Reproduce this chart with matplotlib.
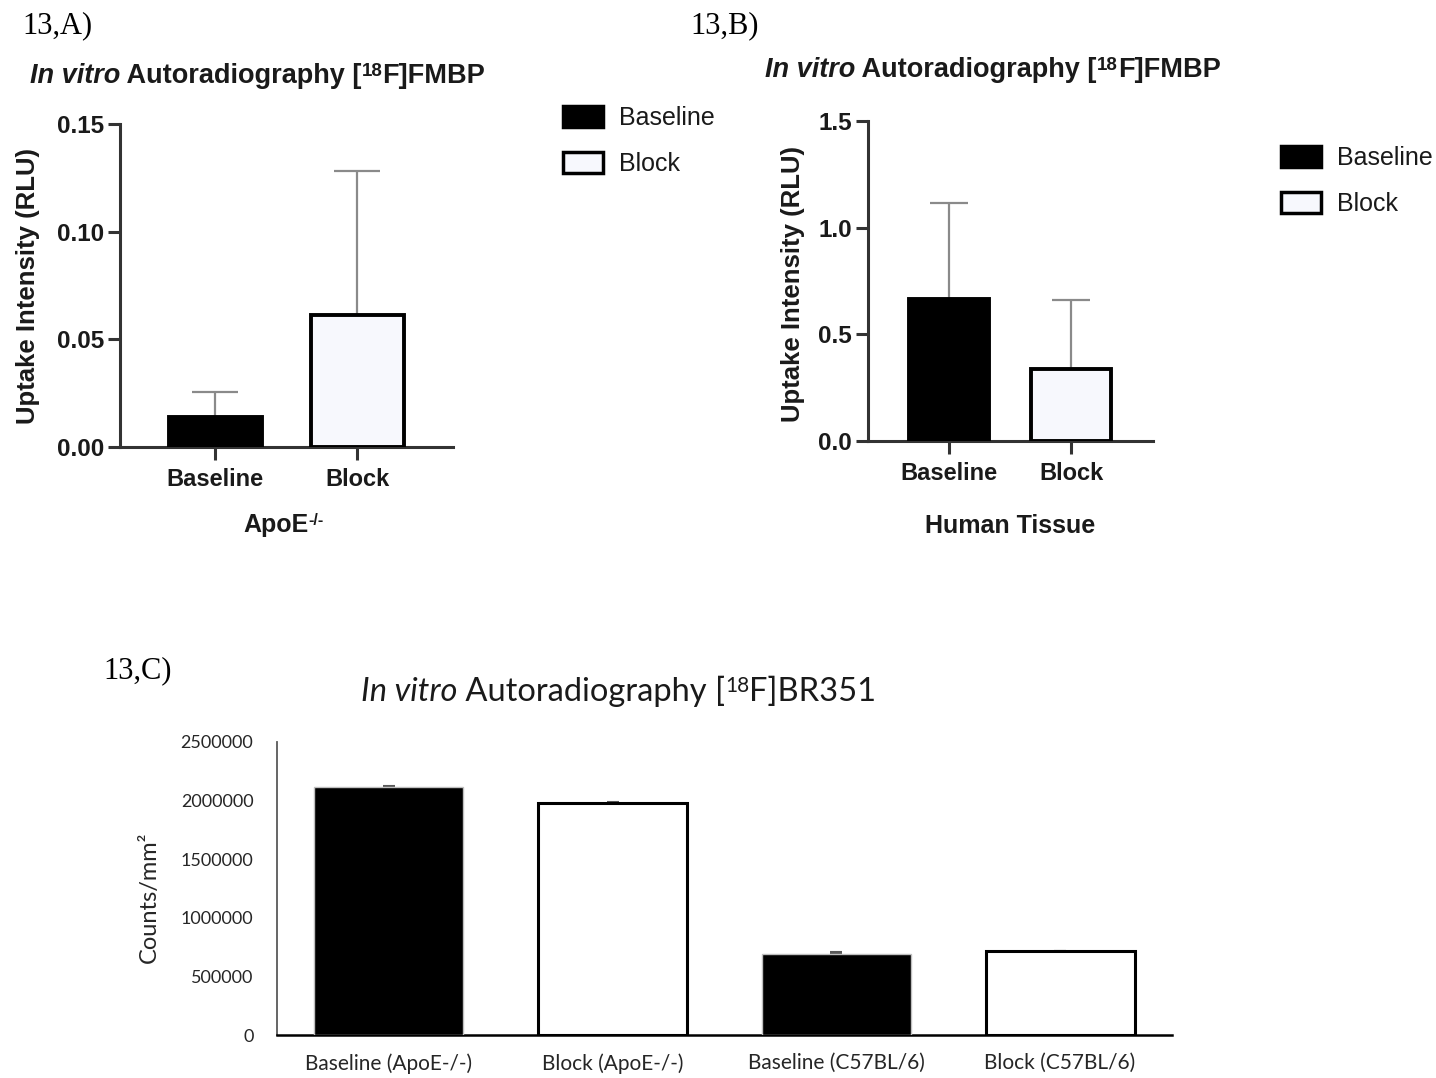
import numpy as np
import matplotlib
matplotlib.use("Agg")
import matplotlib.pyplot as plt
from matplotlib.patches import Patch
from matplotlib.font_manager import FontProperties

# ---- data ----
groups_ab = ["Baseline", "Block"]
apoe_mean = [0.0138, 0.0612]
apoe_sd = [0.0116, 0.0668]
human_mean = [0.666, 0.338]
human_sd = [0.450, 0.323]
apoe_yticks = [0.00, 0.05, 0.10, 0.15]
apoe_yticklabels = ["0.00", "0.05", "0.10", "0.15"]
human_yticks = [0.0, 0.5, 1.0, 1.5]
human_yticklabels = ["0.0", "0.5", "1.0", "1.5"]

c_labels = ["Baseline (ApoE-/-)", "Block (ApoE-/-)", "Baseline (C57BL/6)", "Block (C57BL/6)"]
c_mean = [2115000, 1980000, 695000, 715000]
c_err = [12000, 4000, 12000, 4000]
c_yticks = [0, 500000, 1000000, 1500000, 2000000, 2500000]

W, H = 1436, 1078
PRISM = "Liberation Sans"
XL = "Lato"
TXT = "#1a1a1a"
AX = "#333333"
BLOCK_FILL = "#f7f8fd"

fig = plt.figure(figsize=(W / 100, H / 100), dpi=100)


def box(left, top, right, bottom):
    # pixel box -> figure fraction
    return [left / W, (H - bottom) / H, (right - left) / W, (bottom - top) / H]


def rich(ax, x, y, parts, family, color):
    # chain text pieces one after the other, superscripts hang on the previous piece
    prev = None
    main = None
    for s, size, weight, style, sup in parts:
        kw = dict(fontsize=size, fontweight=weight, fontstyle=style, family=family,
                  color=color, annotation_clip=False, ha="left")
        if prev is None:
            t = ax.annotate(s, xy=(x, H - y), xycoords="figure pixels", va="baseline", **kw)
            main = t
        elif sup:
            t = ax.annotate(s, xy=(1, 1), xycoords=prev, va="top", **kw)
        else:
            t = ax.annotate(s, xy=(1, 0), xycoords=(prev, main), va="bottom", **kw)
            main = t
        prev = t


def prism_panel(ax, means, sds, yticks, yticklabels, xlim, capsize, xlabel):
    x = np.arange(len(means))
    ax.errorbar(x, means, yerr=[np.zeros(len(sds)), sds], fmt="none", ecolor="#8a8a8a",
                elinewidth=1.6, capsize=capsize, capthick=1.6, zorder=2)
    ax.bar(x, means, width=0.655, color=["black", BLOCK_FILL], edgecolor="black",
           linewidth=2.8, zorder=3)
    ax.set_xlim(xlim)
    ax.set_ylim(yticks[0], yticks[-1])
    ax.set_yticks(yticks)
    ax.set_yticklabels(yticklabels, fontweight="bold", family=PRISM, fontsize=17.5, color=TXT)
    ax.set_xticks(x)
    ax.set_xticklabels(groups_ab, fontweight="bold", family=PRISM, fontsize=17, color=TXT)
    for s in ["top", "right"]:
        ax.spines[s].set_visible(False)
    for s in ["left", "bottom"]:
        ax.spines[s].set_linewidth(2.2)
        ax.spines[s].set_color(AX)
    ax.tick_params(axis="both", length=9, width=2.2, color=AX)
    ax.tick_params(axis="y", pad=2.5)
    ax.tick_params(axis="x", pad=6)
    ax.set_ylabel("Uptake Intensity (RLU)", fontweight="bold", family=PRISM, fontsize=18.5, color=TXT)
    ax.set_xlabel(xlabel, fontweight="bold", family=PRISM, fontsize=18, color=TXT)


def prism_legend(ax, left, top):
    handles = [Patch(facecolor="black", edgecolor="black", linewidth=2.5, label="Baseline"),
               Patch(facecolor=BLOCK_FILL, edgecolor="black", linewidth=2.5, label="Block")]
    leg = ax.legend(handles=handles, loc="upper left", bbox_to_anchor=(left / W, (H - top) / H),
                    bbox_transform=fig.transFigure, frameon=False, borderpad=0, borderaxespad=0,
                    prop=FontProperties(family=PRISM, size=18), handlelength=1.6,
                    handleheight=0.88, handletextpad=0.65, labelspacing=0.88)
    for t in leg.get_texts():
        t.set_color(TXT)


title_ab = [("In vitro", 19.5, "bold", "italic", False),
            (" Autoradiography [", 19.5, "bold", "normal", False),
            ("18", 13.5, "bold", "normal", True),
            ("F]FMBP", 19.5, "bold", "normal", False)]

# ---- 13,A ----
axA = fig.add_axes(box(120, 124, 453, 447))
prism_panel(axA, apoe_mean, apoe_sd, apoe_yticks, apoe_yticklabels, (-0.67, 1.676), 16.5, "")
axA.yaxis.set_label_coords(-0.240, 0.5)
prism_legend(axA, 563, 106)
rich(axA, 30, 83, title_ab, PRISM, TXT)
rich(axA, 243, 532, [("ApoE", 18, "bold", "normal", False),
                     ("-/-", 11.5, "bold", "normal", True)], PRISM, TXT)
fig.text(22 / W, (H - 33) / H, "13,A)", family="Liberation Serif", fontsize=22, va="baseline")

# ---- 13,B ----
axB = fig.add_axes(box(868, 121, 1153, 441))
prism_panel(axB, human_mean, human_sd, human_yticks, human_yticklabels, (-0.664, 1.672), 14, "Human Tissue")
axB.yaxis.set_label_coords(-0.221, 0.49)
axB.xaxis.set_label_coords(0.5, -0.228)
prism_legend(axB, 1281, 146)
rich(axB, 765, 77, title_ab, PRISM, TXT)
fig.text(690 / W, (H - 33) / H, "13,B)", family="Liberation Serif", fontsize=22, va="baseline")

# ---- 13,C ----
axC = fig.add_axes(box(277, 742, 1172, 1035))
xc = np.arange(len(c_mean))
axC.errorbar(xc, c_mean, yerr=[np.zeros(len(c_err)), c_err], fmt="none", ecolor="#595959",
             elinewidth=1, capsize=4.3, capthick=1.5, zorder=2)
axC.bar(xc, c_mean, width=0.665, color=["black", "white", "black", "white"],
        edgecolor=["#bfbfbf", "black", "#bfbfbf", "black"], linewidth=[1, 2.2, 1, 2.2], zorder=3)
axC.set_xlim(-0.5, 3.5)
axC.set_ylim(0, 2500000)
axC.set_yticks(c_yticks)
axC.set_yticklabels([str(v) for v in c_yticks], family=XL, fontsize=13, color="#262626")
axC.set_xticks(xc)
axC.set_xticklabels(c_labels, family=XL, fontsize=15, color="#262626")
axC.tick_params(axis="both", length=0)
axC.tick_params(axis="y", pad=17)
axC.tick_params(axis="x", pad=13)
for s in ["top", "right"]:
    axC.spines[s].set_visible(False)
axC.spines["left"].set_color("#595959")
axC.spines["left"].set_linewidth(1.3)
axC.spines["bottom"].set_color("black")
axC.spines["bottom"].set_linewidth(1.8)
axC.set_ylabel("Counts/mm\u00b2", family=XL, fontsize=17, color="#262626")
axC.yaxis.set_label_coords(-0.131, 0.47)
rich(axC, 361, 701, [("In vitro", 23.5, "normal", "italic", False),
                     (" Autoradiography [", 23.5, "normal", "normal", False),
                     ("18", 15, "normal", "normal", True),
                     ("F]BR351", 23.5, "normal", "normal", False)], XL, "#1a1a1a")
fig.text(103 / W, (H - 678) / H, "13,C)", family="Liberation Serif", fontsize=22, va="baseline")

fig.savefig("out.png", dpi=100)
